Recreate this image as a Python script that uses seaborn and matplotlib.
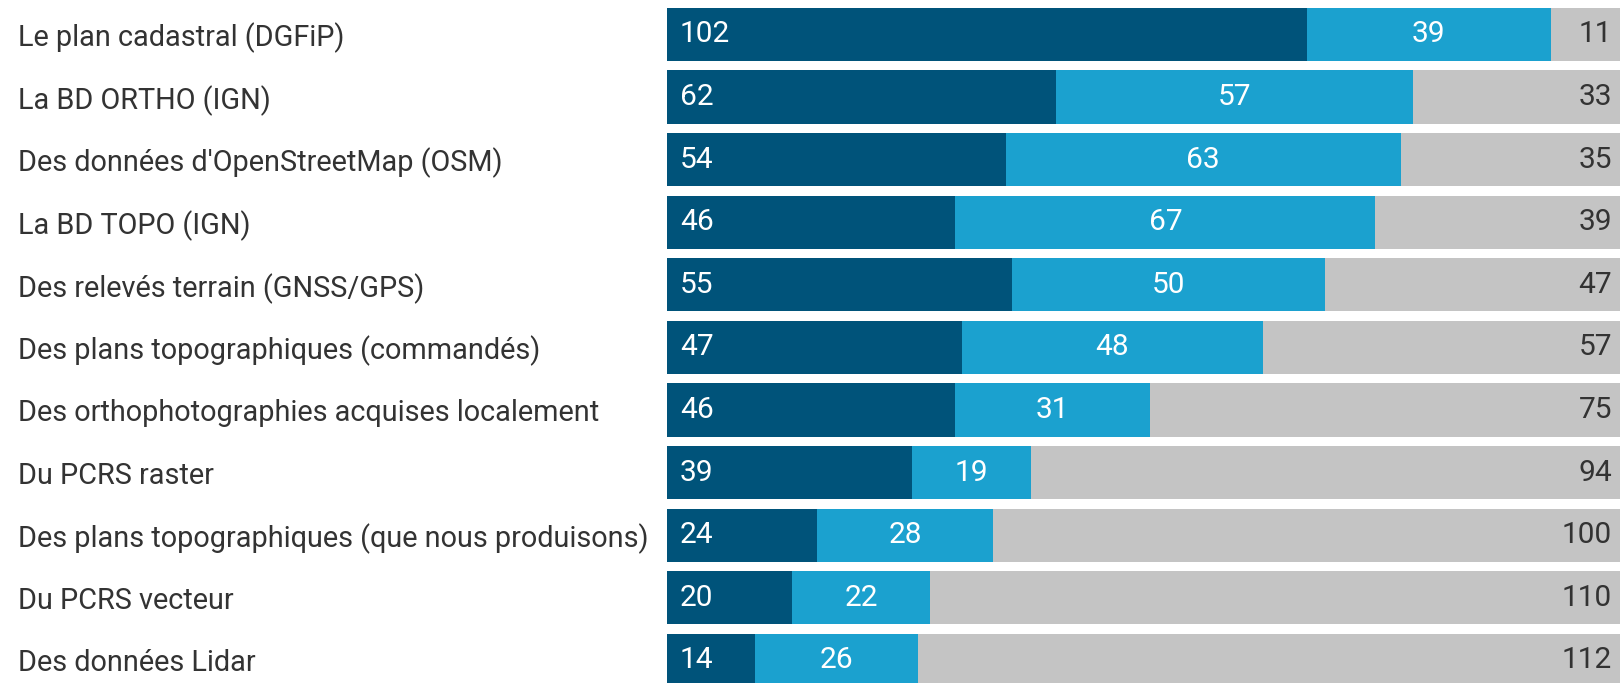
import numpy as np
import pandas as pd
import matplotlib
matplotlib.use("Agg")
import matplotlib.pyplot as plt
import seaborn as sns

# Data (each row sums to 152 respondents)
categories = [
    "Le plan cadastral (DGFiP)",
    "La BD ORTHO (IGN)",
    "Des données d'OpenStreetMap (OSM)",
    "La BD TOPO (IGN)",
    "Des relevés terrain (GNSS/GPS)",
    "Des plans topographiques (commandés)",
    "Des orthophotographies acquises localement",
    "Du PCRS raster",
    "Des plans topographiques (que nous produisons)",
    "Du PCRS vecteur",
    "Des données Lidar",
]
souvent = [102, 62, 54, 46, 55, 47, 46, 39, 24, 20, 14]
parfois = [39, 57, 63, 67, 50, 48, 31, 19, 28, 22, 26]
jamais = [11, 33, 35, 39, 47, 57, 75, 94, 100, 110, 112]

DARK = "#00537a"
LIGHT = "#1ba1cf"
GREY = "#c4c4c4"
TXT = "#333333"

df = pd.DataFrame({"cat": categories, "souvent": souvent,
                   "parfois": parfois, "jamais": jamais})
df["c1"] = df["souvent"]
df["c2"] = df["souvent"] + df["parfois"]
df["c3"] = df["c2"] + df["jamais"]

sns.set_theme(style="white")
plt.rcParams["font.family"] = ["Roboto", "DejaVu Sans"]

W, H, DPI = 1620, 683, 100
fig = plt.figure(figsize=(W / DPI, H / DPI), dpi=DPI)
left = 667 / W
ax = fig.add_axes([left, 0, 1 - left, 1])

# stacked bars: draw cumulative totals back to front
for col, color in [("c3", GREY), ("c2", LIGHT), ("c1", DARK)]:
    sns.barplot(data=df, x=col, y="cat", color=color, width=0.85,
                saturation=1, orient="h", linewidth=0, ax=ax)

ax.set_xlim(0, df["c3"].max())
ax.set_ylim(10.36, -0.55)
ax.set_xlabel("")
ax.set_ylabel("")
ax.set_xticks([])
sns.despine(ax=ax, left=True, bottom=True)

ax.tick_params(axis="y", length=0, pad=(667 - 18) * 72 / DPI)
for lbl in ax.get_yticklabels():
    lbl.set_ha("left")
    lbl.set_fontsize(20.8)
    lbl.set_color(TXT)

fs = 21.5
for i, row in df.iterrows():
    ax.annotate(str(row["souvent"]), (0, i), xytext=(13 * 72 / DPI, 0),
                textcoords="offset points", ha="left", va="center",
                color="white", fontsize=fs)
    ax.text((row["c1"] + row["c2"]) / 2, i, str(row["parfois"]),
            ha="center", va="center", color="white", fontsize=fs)
    ax.annotate(str(row["jamais"]), (row["c3"], i), xytext=(-8 * 72 / DPI, 0),
                textcoords="offset points", ha="right", va="center",
                color=TXT, fontsize=fs)

fig.savefig("out.png", dpi=DPI)
